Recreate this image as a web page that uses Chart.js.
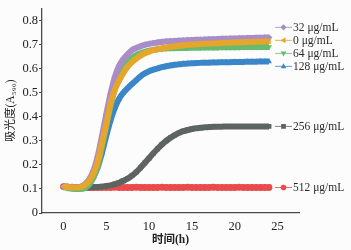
<!DOCTYPE html>
<html><head><meta charset="utf-8">
<script src="https://cdn.jsdelivr.net/npm/chart.js@4.4.1/dist/chart.umd.min.js"></script>
<style>html,body{margin:0;padding:0;background:#fcfcfc;}#wrap{width:351px;height:250px;}</style>
</head><body><div id="wrap"><canvas id="c" width="351" height="250"></canvas></div>
<script>
const hours = [0,0.5,1,1.5,2,2.5,3,3.5,4,4.5,5,5.5,6,6.5,7,7.5,8,8.5,9,9.5,10,10.5,11,11.5,12,12.5,13,13.5,14,14.5,15,15.5,16,16.5,17,17.5,18,18.5,19,19.5,20,20.5,21,21.5,22,22.5,23,23.5,24];
const seriesLabels = ["32 μg/mL","0 μg/mL","64 μg/mL","128 μg/mL","256 μg/mL","512 μg/mL"];
const od32 = [0.110,0.108,0.107,0.107,0.109,0.119,0.140,0.175,0.235,0.320,
  0.410,0.495,0.565,0.612,0.640,0.660,0.677,0.686,0.693,0.699,
  0.703,0.706,0.709,0.711,0.713,0.714,0.715,0.716,0.717,0.718,
  0.719,0.720,0.720,0.721,0.722,0.722,0.723,0.724,0.724,0.725,
  0.725,0.726,0.726,0.727,0.727,0.728,0.728,0.729,0.729];
const od0 = [0.110,0.108,0.106,0.106,0.108,0.116,0.133,0.163,0.212,0.290,
  0.370,0.455,0.512,0.550,0.582,0.608,0.627,0.642,0.654,0.664,
  0.671,0.677,0.681,0.685,0.688,0.691,0.693,0.695,0.697,0.699,
  0.700,0.701,0.702,0.703,0.704,0.705,0.706,0.707,0.708,0.708,
  0.709,0.710,0.710,0.711,0.711,0.712,0.712,0.713,0.713];
const od64 = [0.108,0.104,0.101,0.100,0.100,0.104,0.118,0.148,0.198,0.275,
  0.360,0.445,0.515,0.565,0.600,0.626,0.644,0.656,0.664,0.670,
  0.675,0.678,0.681,0.683,0.684,0.685,0.685,0.686,0.686,0.686,
  0.687,0.687,0.687,0.688,0.688,0.688,0.688,0.689,0.689,0.689,
  0.689,0.689,0.690,0.690,0.690,0.690,0.690,0.690,0.690];
const od128 = [0.110,0.107,0.105,0.104,0.105,0.110,0.122,0.148,0.190,0.250,
  0.320,0.385,0.437,0.475,0.500,0.519,0.536,0.552,0.568,0.580,
  0.589,0.596,0.601,0.606,0.610,0.613,0.616,0.618,0.620,0.621,
  0.622,0.623,0.624,0.625,0.625,0.626,0.626,0.627,0.627,0.627,
  0.628,0.628,0.628,0.629,0.629,0.629,0.630,0.630,0.630];
const od256 = [0.110,0.108,0.106,0.106,0.106,0.106,0.106,0.107,0.108,0.110,
  0.112,0.115,0.120,0.126,0.134,0.143,0.155,0.170,0.188,0.208,
  0.228,0.248,0.267,0.285,0.300,0.313,0.324,0.333,0.340,0.345,
  0.349,0.352,0.354,0.356,0.357,0.358,0.359,0.359,0.360,0.360,
  0.360,0.360,0.360,0.360,0.360,0.360,0.360,0.360,0.360];
const od512 = [0.110,0.108,0.107,0.106,0.106,0.106,0.106,0.106,0.106,0.106,
  0.106,0.106,0.107,0.106,0.106,0.106,0.106,0.107,0.106,0.106,
  0.106,0.106,0.106,0.107,0.106,0.106,0.106,0.106,0.106,0.107,
  0.106,0.106,0.106,0.106,0.106,0.107,0.106,0.106,0.106,0.106,
  0.106,0.107,0.106,0.106,0.106,0.106,0.106,0.106,0.106];
const xTickValues = [0,5,10,15,20,25];
const yTickValues = [0,0.1,0.2,0.3,0.4,0.5,0.6,0.7,0.8];

const colors = ["#a98dc9","#e5a62b","#67bb70","#3b86c9","#5d6461","#e94b4b"];
const styles = [{s:"rectRot",r:0},{s:"triangle",r:-90},{s:"triangle",r:180},{s:"triangle",r:0},{s:"rect",r:0},{s:"circle",r:0}];
const drawOrder = [1,0,2,3,4,5];
const values = [od32,od0,od64,od128,od256,od512];

const datasets = values.map((v,i)=>({
  label: seriesLabels[i],
  data: hours.map((h,j)=>({x:h,y:v[j]})),
  borderColor: colors[i], backgroundColor: colors[i],
  borderWidth: 6, pointRadius: 3.4, pointStyle: styles[i].s, pointRotation: styles[i].r,
  pointBorderWidth: 0, order: drawOrder[i], cubicInterpolationMode:'monotone'
}));

function marker(ctx, style, rot, x, y, r, col){
  ctx.save(); ctx.translate(x,y); ctx.rotate(rot*Math.PI/180); ctx.fillStyle=col; ctx.beginPath();
  if(style==="circle"){ctx.arc(0,0,r,0,Math.PI*2);}
  else if(style==="rect"){ctx.rect(-r*0.85,-r*0.85,r*1.7,r*1.7);}
  else if(style==="rectRot"){ctx.moveTo(0,-r*1.1);ctx.lineTo(r*1.1,0);ctx.lineTo(0,r*1.1);ctx.lineTo(-r*1.1,0);ctx.closePath();}
  else {ctx.moveTo(0,-r*1.1);ctx.lineTo(r*1.0,r*0.7);ctx.lineTo(-r*1.0,r*0.7);ctx.closePath();}
  ctx.fill(); ctx.restore();
}

const endLabels = {
  id:'endLabels',
  afterDatasetsDraw(chart){
    const ctx=chart.ctx, xs=chart.scales.x, ys=chart.scales.y;
    const gap=13;
    let items = values.map((v,i)=>({i, t: ys.getPixelForValue(v[v.length-1]), y:0}));
    items.sort((a,b)=>a.t-b.t);
    let clusters = items.map(it=>({m:[it]}));
    const place = c => { const mean=c.m.reduce((s,it)=>s+it.t,0)/c.m.length; const start=mean-gap*(c.m.length-1)/2; c.m.forEach((it,k)=>it.y=start+k*gap); };
    clusters.forEach(place);
    let changed=true;
    while(changed){ changed=false;
      for(let k=0;k<clusters.length-1;k++){
        const a=clusters[k], b=clusters[k+1];
        if(b.m[0].y - a.m[a.m.length-1].y < gap){ a.m=a.m.concat(b.m); place(a); clusters.splice(k+1,1); changed=true; break; }
      }
    }
    const x0 = xs.getPixelForValue(hours[hours.length-1]);
    ctx.save();
    ctx.font = "11.5px 'Liberation Serif', serif";
    ctx.textBaseline='middle'; ctx.textAlign='left';
    items.forEach(it=>{
      const c=colors[it.i];
      ctx.strokeStyle=c; ctx.globalAlpha=0.8; ctx.lineWidth=1;
      ctx.beginPath(); ctx.moveTo(x0+6,it.y); ctx.lineTo(x0+23,it.y); ctx.stroke();
      ctx.globalAlpha=1;
      marker(ctx, styles[it.i].s, styles[it.i].r, x0+14.5, it.y, 2.8, c);
      ctx.fillStyle='#2a2a2a';
      ctx.fillText(seriesLabels[it.i], x0+24, it.y+0.5);
    });
    ctx.restore();
  }
};

new Chart(document.getElementById('c'), {
  type:'line',
  data:{datasets},
  options:{
    responsive:false, animation:false,
    layout:{padding:{top:8,right:52,left:0,bottom:0}},
    plugins:{legend:{display:false},tooltip:{enabled:false}},
    scales:{
      x:{type:'linear',min:-2.5,max:27.5,
        afterBuildTicks:s=>{s.ticks=xTickValues.map(v=>({value:v}));},
        afterFit:s=>{s.height=37;},
        grid:{display:true,drawOnChartArea:false,drawTicks:true,tickLength:4,color:'rgba(0,0,0,0)'},
        border:{display:true,color:'#4a4a4a',width:1.3},
        ticks:{color:'#222',padding:2,maxRotation:0,font:{family:"'Liberation Serif', serif",size:12.5},callback:v=>String(v)},
        title:{display:true,text:'时间(h)',color:'#222',padding:{top:0,bottom:3},font:{family:"'Liberation Serif','Noto Sans CJK SC',serif",size:11.5,weight:'bold'}}
      },
      y:{min:0,max:0.85,
        afterBuildTicks:s=>{s.ticks=yTickValues.map(v=>({value:v}));},
        afterFit:s=>{s.width=42;},
        grid:{display:true,drawOnChartArea:false,drawTicks:true,tickLength:3,color:'#4a4a4a'},
        border:{display:true,color:'#4a4a4a',width:1.3},
        ticks:{color:'#222',padding:1,font:{family:"'Liberation Serif', serif",size:12.5},callback:v=>(v===0?'0':v.toFixed(1))},
        title:{display:true,text:'吸光度(A₅₉₀)',color:'#222',padding:{top:4,bottom:0},font:{family:"'Liberation Serif','Noto Sans CJK SC',serif",size:11.5}}
      }
    }
  },
  plugins:[endLabels]
});
</script></body></html>
